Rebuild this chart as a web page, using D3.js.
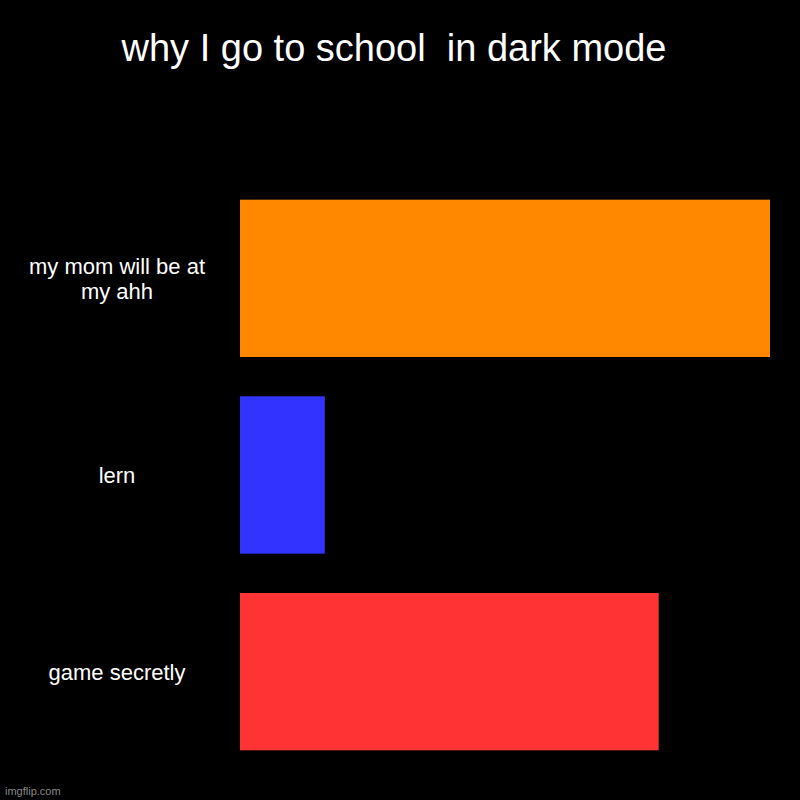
<!DOCTYPE html>
<html>
<head>
<meta charset="utf-8">
<script src="https://cdn.jsdelivr.net/npm/d3@7"></script>
<style>
  html, body { margin: 0; padding: 0; background: #000; }
  svg { display: block; }
</style>
</head>
<body>
<svg id="chart" width="800" height="800"></svg>
<script>
const categories = ["my mom will be at my ahh", "lern", "game secretly"];
const values = [100, 16, 79];
const colors = ["#ff8800", "#3333ff", "#ff3333"];
const titleText = "why I go to school  in dark mode";

const svg = d3.select("#chart");
svg.append("rect").attr("width", 800).attr("height", 800).attr("fill", "#000");

const x = d3.scaleLinear().domain([0, 100]).range([240, 770]);
const y = d3.scaleBand().domain(categories).range([180, 770]).paddingInner(0.2).paddingOuter(0.1);

svg.append("text")
  .attr("x", 394).attr("y", 61)
  .attr("text-anchor", "middle")
  .attr("fill", "#fff")
  .style("font-family", "'Liberation Sans', Arial, sans-serif")
  .style("font-size", "38px")
  .style("white-space", "pre")
  .text(titleText);

svg.selectAll("rect.bar")
  .data(categories)
  .enter().append("rect")
  .attr("class", "bar")
  .attr("x", x(0))
  .attr("y", d => y(d))
  .attr("width", (d, i) => x(values[i]) - x(0))
  .attr("height", y.bandwidth())
  .attr("fill", (d, i) => colors[i]);

const labelLines = [["my mom will be at", "my ahh"], ["lern"], ["game secretly"]];
const lineH = 25;
categories.forEach((c, i) => {
  const lines = labelLines[i];
  const cy = y(c) + y.bandwidth() / 2;
  const t = svg.append("text")
    .attr("text-anchor", "middle")
    .attr("fill", "#fff")
    .style("font-family", "'Liberation Sans', Arial, sans-serif")
    .style("font-size", "22px");
  lines.forEach((ln, j) => {
    t.append("tspan")
      .attr("x", 117)
      .attr("y", cy + 8 + (j - (lines.length - 1) / 2) * lineH)
      .text(ln);
  });
});

svg.append("text")
  .attr("x", 5).attr("y", 795)
  .attr("fill", "#888")
  .style("font-family", "'Liberation Sans', Arial, sans-serif")
  .style("font-size", "11px")
  .text("imgflip.com");
</script>
</body>
</html>
